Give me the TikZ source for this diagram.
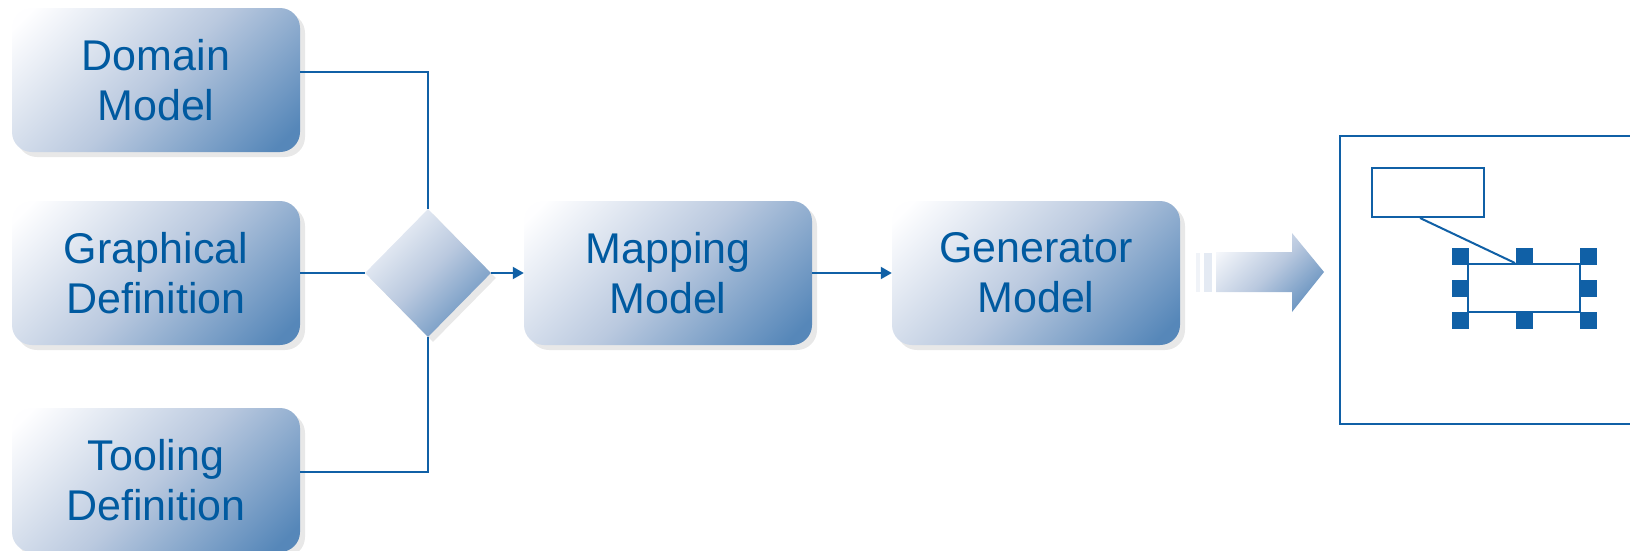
\documentclass[tikz,border=0pt]{standalone}
\usepackage{fontspec}
\setmainfont{Liberation Sans}
\usetikzlibrary{shapes.geometric,arrows.meta,shadows}
\definecolor{tblue}{RGB}{0,90,160}
\definecolor{lblue}{RGB}{16,96,166}
\definecolor{glight}{RGB}{254,254,255}
\definecolor{gmid}{RGB}{186,201,223}
\definecolor{gdark}{RGB}{86,135,185}
\definecolor{shad}{RGB}{232,232,232}
\definecolor{stripe}{RGB}{228,234,243}
\definecolor{stripeb}{RGB}{240,243,248}
\pgfdeclareverticalshading{boxgrad}{100bp}{color(0bp)=(gdark); color(19bp)=(gdark); color(50bp)=(gmid); color(82bp)=(glight); color(100bp)=(glight)}
\begin{document}
\begin{tikzpicture}[x=1pt,y=-1pt,
  grad/.style={shading=boxgrad, shading angle=45},
  shadowed/.style={general shadow={fill=shad, shadow xshift=5pt, shadow yshift=-5pt}},
  box/.style={shadowed, grad, rounded corners=20pt, minimum width=288pt, minimum height=144pt,
    inner sep=0pt, align=center, text=tblue, font=\fontsize{43}{50}\selectfont},
  gate/.style={shadowed, grad, diamond, minimum width=126pt, minimum height=128pt, inner sep=0pt},
  conn/.style={draw=lblue, line width=2pt},
  arr/.style={conn, -{Triangle[length=11pt,width=12pt]}},
  frame/.style={draw=lblue, line width=2.5pt},
  inner/.style={draw=lblue, line width=2pt, fill=white},
  handle/.style={fill=lblue}
]
\useasboundingbox (0,0) rectangle (1630,550);

\node[box] (dom) at (156,80) {Domain\\Model};
\node[box] (graph) at (156,273) {Graphical\\Definition};
\node[box] (tool) at (156,480) {Tooling\\Definition};
\node[gate] (gate) at (428,273) {};
\node[box] (map) at (668,273) {Mapping\\Model};
\node[box] (gen) at (1036,273) {Generator\\Model};

\draw[conn] ([yshift=8pt]dom.east) -| (gate.north);
\draw[conn] (graph.east) -- (gate.west);
\draw[conn] ([yshift=8pt]tool.east) -| (gate.south);
\draw[arr] (gate.east) -- (map.west);
\draw[arr] (map.east) -- (gen.west);

% big arrow
\fill[stripeb] (1196,253) rectangle (1200,292);
\fill[stripe] (1204,253) rectangle (1212,292);
\shade[grad] (1216,252) -- (1292,252) -- (1292,233) -- (1324,272) -- (1292,312) -- (1292,292) -- (1216,292) -- cycle;

% editor panel
\draw[frame] (1640,136) -- (1340,136) -- (1340,424) -- (1640,424);
\node[inner, minimum width=112pt, minimum height=49pt, inner sep=0pt] (r1) at (1428,192.5) {};
\node[inner, minimum width=112pt, minimum height=48pt, inner sep=0pt] (r2) at (1524,288) {};
\draw[conn] ([xshift=-8pt]r1.south) -- ([xshift=-9pt]r2.north);
\foreach \hx/\hy in {1460/256,1524/256,1588/256,1460/288,1588/288,1460/320,1524/320,1588/320}
  \fill[handle] (\hx-8.5,\hy-8.5) rectangle (\hx+8.5,\hy+8.5);
\end{tikzpicture}
\end{document}
